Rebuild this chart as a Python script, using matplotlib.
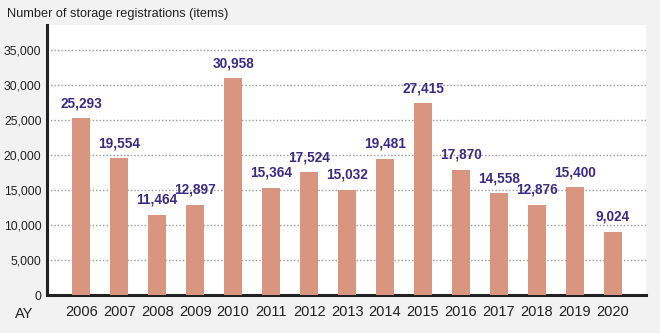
import matplotlib.pyplot as plt
from matplotlib.ticker import FuncFormatter

years = ['2006', '2007', '2008', '2009', '2010', '2011', '2012', '2013',
         '2014', '2015', '2016', '2017', '2018', '2019', '2020']
registrations = [25293, 19554, 11464, 12897, 30958, 15364, 17524, 15032,
                 19481, 27415, 17870, 14558, 12876, 15400, 9024]
yticks = [0, 5000, 10000, 15000, 20000, 25000, 30000, 35000]

plt.rcParams['font.family'] = ['Liberation Sans', 'DejaVu Sans']

fig = plt.figure(figsize=(6.6, 3.33), dpi=100, facecolor='#f2f2f2')
ax = fig.add_axes([47 / 660, 38 / 333, 599 / 660, 270 / 333])
ax.set_facecolor('white')

x = list(range(len(years)))
ax.bar(x, registrations, width=0.47, color='#d89580', zorder=3)

for xi, v in zip(x, registrations):
    ax.text(xi, v + 1150, f'{v:,}', ha='center', va='bottom',
            fontweight='bold', color='#3b2a86', fontsize=9.8, zorder=4)

ax.set_xlim(-0.9, 14.87)
ax.set_ylim(0, 38600)
ax.set_yticks(yticks)
ax.yaxis.set_major_formatter(FuncFormatter(lambda v, p: f'{int(v):,}'))
ax.set_xticks(x)
ax.set_xticklabels(years)
ax.tick_params(axis='both', length=0, colors='#222222')
ax.tick_params(axis='x', pad=7, labelsize=10.5)
ax.tick_params(axis='y', pad=4, labelsize=8.8)

for t in yticks[1:]:
    ax.axhline(t, color='#999999', linestyle=(0, (1, 1.5)), linewidth=1, zorder=1)

for s in ['top', 'right']:
    ax.spines[s].set_visible(False)
ax.spines['left'].set_linewidth(2.2)
ax.spines['bottom'].set_linewidth(2.2)
ax.spines['left'].set_color('#222222')
ax.spines['bottom'].set_color('#222222')

fig.text(7 / 660, 1 - 14 / 333, 'Number of storage registrations (items)',
         fontsize=9.2, color='#222222', va='center', ha='left')
fig.text(15 / 660, 1 - 314 / 333, 'AY', fontsize=10.5, color='#222222',
         va='center', ha='left')

fig.savefig('out.png', dpi=100, facecolor=fig.get_facecolor())
